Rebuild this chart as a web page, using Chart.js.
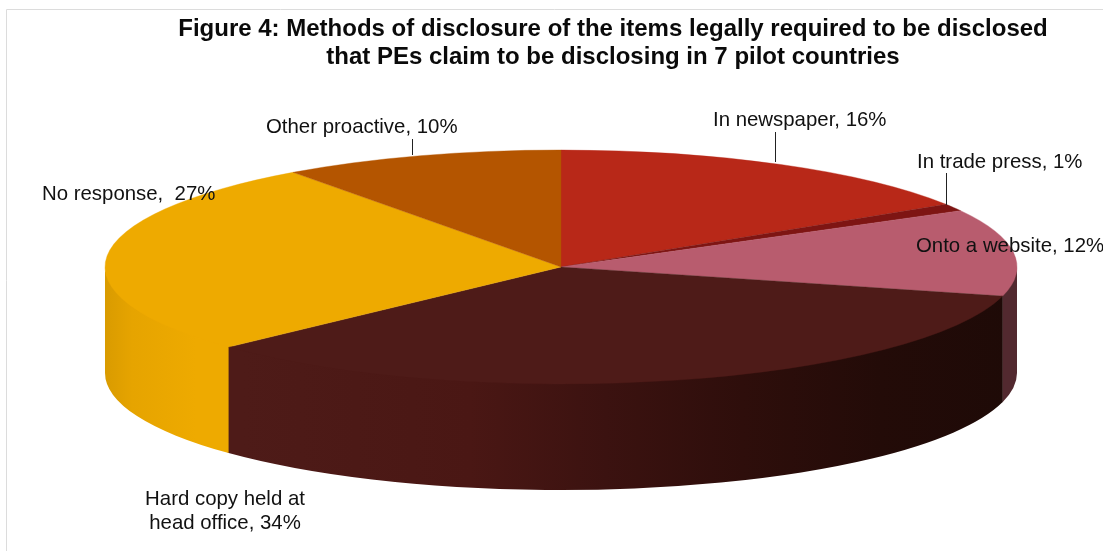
<!DOCTYPE html>
<html>
<head>
<meta charset="utf-8">
<title>Methods of disclosure</title>
<style>
  html, body { margin: 0; padding: 0; background: #fff; }
  canvas { display: block; }
</style>
<script src="https://cdn.jsdelivr.net/npm/chart.js@4"></script>
</head>
<body>
<canvas id="chart" width="1103" height="551"></canvas>
<script>
// Share of disclosure methods, in percent
const categories = ['In newspaper', 'In trade press', 'Onto a website', 'Hard copy held at head office', 'No response', 'Other proactive'];
const shares = [16, 1, 12, 34, 27, 10];
const topColors = ['#b82818', '#7e1513', '#b85c6e', '#4e1b18', '#eeaa00', '#b45500'];
const titleLines = [
  'Figure 4: Methods of disclosure of the items legally required to be disclosed',
  'that PEs claim to be disclosing in 7 pilot countries'
];

// Side wall shading per slice: [position across the pie from 0 (left) to 1 (right), colour]
const wallShades = [
  [[0, '#7e1a10'], [1, '#7e1a10']],
  [[0, '#5a0f0d'], [1, '#5a0f0d']],
  [[0, '#52292f'], [1, '#52292f']],
  [[0.15, '#4e1b18'], [0.4, '#4a1714'], [0.55, '#3b1210'], [0.7, '#2e0e0b'], [0.85, '#230b08'], [1, '#1e0a07']],
  [[0, '#d99b00'], [0.03, '#e6a400'], [0.1, '#eeaa00'], [1, '#eeaa00']],
  [[0, '#8a4000'], [1, '#8a4000']]
];

// Pie geometry on the page
const PIE = { x: 561, y: 267, radius: 456, squash: 117 / 456, depth: 106 };

// Callout text: one entry per slice, in slice order
const callouts = [
  { lines: ['In newspaper, 16%'], x: 713, y: 120, leader: [775, 132, 162] },
  { lines: ['In trade press, 1%'], x: 917, y: 162, leader: [946, 173, 205] },
  { lines: ['Onto a website, 12%'], x: 916, y: 246 },
  { lines: ['Hard copy held at', 'head office, 34%'], x: 225, y: 499, center: true },
  { lines: ['No response,  27%'], x: 42, y: 194 },
  { lines: ['Other proactive, 10%'], x: 266, y: 127, leader: [412, 139, 155] }
];

const LABEL_FONT = '20.4px "Liberation Sans", Arial, sans-serif';

function sideWalls(chart) {
  const ctx = chart.ctx;
  const arcs = chart.getDatasetMeta(0).data;
  const ry = PIE.radius * PIE.squash;
  ctx.save();
  arcs.forEach((arc, i) => {
    const from = Math.max(arc.startAngle, 0);
    const to = Math.min(arc.endAngle + 0.003, Math.PI);
    if (to <= from) return;
    const grad = ctx.createLinearGradient(PIE.x - PIE.radius, 0, PIE.x + PIE.radius, 0);
    wallShades[i].forEach(([pos, color]) => grad.addColorStop(pos, color));
    ctx.fillStyle = grad;
    ctx.beginPath();
    // The upper edge runs slightly under the slice tops so no seam shows
    ctx.ellipse(PIE.x, PIE.y - 2, PIE.radius, ry, 0, from, to);
    ctx.ellipse(PIE.x, PIE.y + PIE.depth, PIE.radius, ry, 0, to, from, true);
    ctx.closePath();
    ctx.fill();
  });
  ctx.restore();
}

const tiltedPie = {
  id: 'tiltedPie',
  beforeDraw(chart) {
    // Light chart frame, open on the right and at the bottom
    const ctx = chart.ctx;
    ctx.save();
    ctx.strokeStyle = '#dcdcdc';
    ctx.lineWidth = 1;
    ctx.beginPath();
    ctx.moveTo(6.5, chart.height);
    ctx.lineTo(6.5, 9.5);
    ctx.lineTo(chart.width, 9.5);
    ctx.stroke();
    ctx.restore();
  },
  beforeDatasetsDraw(chart) {
    sideWalls(chart);
    const ctx = chart.ctx;
    const first = chart.getDatasetMeta(0).data[0];
    ctx.save();
    ctx.translate(PIE.x, PIE.y);
    ctx.scale(1, PIE.squash);
    ctx.translate(-first.x, -first.y);
  },
  afterDatasetsDraw(chart) {
    const ctx = chart.ctx;
    ctx.restore();
    ctx.save();
    ctx.fillStyle = '#111';
    ctx.strokeStyle = '#222';
    ctx.lineWidth = 1;
    ctx.font = LABEL_FONT;
    ctx.textBaseline = 'middle';
    callouts.forEach(c => {
      ctx.textAlign = c.center ? 'center' : 'left';
      c.lines.forEach((line, n) => ctx.fillText(line, c.x, c.y + n * 24));
      if (c.leader) {
        const [lx, y0, y1] = c.leader;
        ctx.beginPath();
        ctx.moveTo(lx + 0.5, y0);
        ctx.lineTo(lx + 0.5, y1);
        ctx.stroke();
      }
    });
    ctx.restore();
  }
};

new Chart(document.getElementById('chart'), {
  type: 'pie',
  data: {
    labels: categories,
    datasets: [{
      data: shares,
      backgroundColor: topColors,
      borderColor: topColors,
      borderWidth: 0.6,
      borderJoinStyle: 'round',
      radius: PIE.radius,
      clip: false
    }]
  },
  plugins: [tiltedPie],
  options: {
    responsive: false,
    animation: false,
    events: [],
    layout: { padding: { left: 123 } },
    plugins: {
      legend: { display: false },
      tooltip: { enabled: false },
      title: {
        display: true,
        text: titleLines,
        color: '#0a0a0a',
        font: { family: '"Liberation Sans", Arial, sans-serif', size: 24, weight: 'bold', lineHeight: 1.17 },
        padding: { top: 15, bottom: 10 }
      }
    }
  }
});
</script>
</body>
</html>
